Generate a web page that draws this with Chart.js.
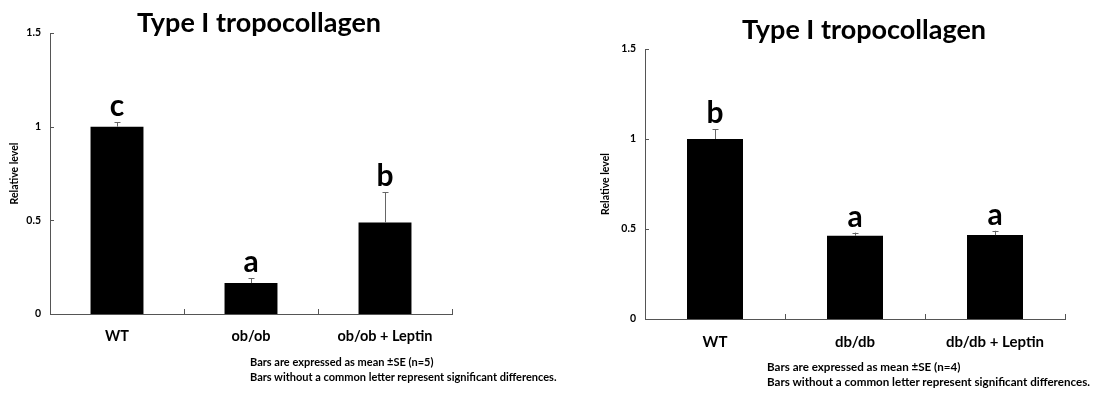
<!DOCTYPE html>
<html>
<head>
<meta charset="utf-8">
<script src="https://cdn.jsdelivr.net/npm/chart.js@4.4.1/dist/chart.umd.min.js"></script>
<style>
  html, body { margin: 0; padding: 0; background: #fff; }
  #wrap { position: relative; width: 1099px; height: 393px; background: #fff; overflow: hidden; }
  .panel { position: absolute; top: 0; height: 393px; }
  .title { position: absolute; font-family: Lato, "Open Sans", sans-serif; font-weight: 700; font-size: 27px; color: #000; white-space: nowrap; transform: translateX(-50%); line-height: 1; }
  .note { position: absolute; font-family: Lato, "Open Sans", sans-serif; font-weight: 700; color: #000; white-space: nowrap; line-height: 14.5px; }
</style>
</head>
<body>
<div id="wrap">
  <div class="panel" style="left:0;width:550px"><canvas id="c1" width="550" height="393"></canvas></div>
  <div class="panel" style="left:550px;width:549px"><canvas id="c2" width="549" height="393"></canvas></div>
  <div class="title" id="t1" style="left:259px;top:8px"></div>
  <div class="title" id="t2" style="left:864px;top:15px"></div>
  <div class="note" id="n1" style="left:250px;top:355px;font-size:11px"></div>
  <div class="note" id="n2" style="left:767px;top:360px;font-size:11.6px"></div>
</div>
<script>
// ---- data ----
const chartTitle = "Type I tropocollagen";
const yAxisTitle = "Relative level";
const yTicks = [0, 0.5, 1, 1.5];

const catsOb = ["WT", "ob/ob", "ob/ob + Leptin"];
const meanOb = [1.0, 0.165, 0.488];
const seOb = [0.024, 0.025, 0.163];
const lettersOb = ["c", "a", "b"];
const noteOb = ["Bars are expressed as mean \u00b1SE (n=5)", "Bars without a common letter represent significant differences."];

const catsDb = ["WT", "db/db", "db/db + Leptin"];
const meanDb = [1.0, 0.462, 0.466];
const seDb = [0.055, 0.018, 0.024];
const lettersDb = ["b", "a", "a"];
const noteDb = ["Bars are expressed as mean \u00b1SE (n=4)", "Bars without a common letter represent significant differences."];

document.getElementById('t1').textContent = chartTitle;
document.getElementById('t2').textContent = chartTitle;
document.getElementById('n1').innerHTML = noteOb.join('<br>');
document.getElementById('n2').innerHTML = noteDb.join('<br>');

const FONT = 'Lato, "Open Sans", sans-serif';
const AXIS = '#555';

// plugin: inside tick marks, error bars, significance letters
const extras = {
  id: 'extras',
  afterDatasetsDraw(chart, args, opts) {
    const ctx = chart.ctx;
    const xs = chart.scales.x, ys = chart.scales.y;
    const ca = chart.chartArea;
    ctx.save();
    // inside tick marks
    ctx.strokeStyle = AXIS;
    ctx.lineWidth = 1;
    ctx.beginPath();
    yTicks.forEach(v => {
      const y = Math.round(ys.getPixelForValue(v)) + 0.5;
      ctx.moveTo(ca.left, y); ctx.lineTo(ca.left + 4, y);
    });
    const n = chart.data.labels.length;
    for (let i = 1; i <= n; i++) {
      const x = Math.round((xs.getPixelForValue(i - 1) + (i < n ? xs.getPixelForValue(i) : 2 * xs.getPixelForValue(i - 1) - xs.getPixelForValue(i - 2))) / 2) + 0.5;
      ctx.moveTo(x, ca.bottom); ctx.lineTo(x, ca.bottom - 5);
    }
    ctx.stroke();
    // error bars + letters
    const meta = chart.getDatasetMeta(0);
    const ds = chart.data.datasets[0];
    meta.data.forEach((bar, i) => {
      const top = ys.getPixelForValue(ds.data[i] + opts.se[i]);
      const x = Math.round(bar.x) + 0.5;
      ctx.strokeStyle = '#666';
      ctx.beginPath();
      ctx.moveTo(x, bar.y); ctx.lineTo(x, top);
      ctx.moveTo(x - 3, Math.round(top) + 0.5); ctx.lineTo(x + 3, Math.round(top) + 0.5);
      ctx.stroke();
      ctx.fillStyle = '#000';
      ctx.font = 'bold 30px ' + FONT;
      ctx.textAlign = 'center';
      ctx.textBaseline = 'alphabetic';
      ctx.fillText(opts.letters[i], bar.x, top - 6);
    });
    ctx.restore();
  }
};

function makeChart(id, cats, means, se, letters, g) {
  return new Chart(document.getElementById(id), {
    type: 'bar',
    data: {
      labels: cats,
      datasets: [{ data: means, backgroundColor: '#000', borderWidth: 0,
                   categoryPercentage: 1, barPercentage: g.barPct }]
    },
    plugins: [extras],
    options: {
      responsive: false,
      animation: false,
      events: [],
      layout: { padding: { left: g.padL, right: g.padR, top: g.padT, bottom: g.padB } },
      plugins: { legend: { display: false }, tooltip: { enabled: false },
                 extras: { se: se, letters: letters } },
      scales: {
        x: {
          grid: { display: false, drawTicks: false },
          border: { display: true, color: AXIS, width: 1 },
          ticks: { color: '#000', padding: g.xPad, font: { family: FONT, weight: 'bold', size: g.xFont }, maxRotation: 0, autoSkip: false },
          afterFit: s => { s.height = g.xH; }
        },
        y: {
          min: 0, max: 1.5,
          grid: { display: false, drawTicks: false },
          border: { display: true, color: AXIS, width: 1 },
          afterBuildTicks: s => { s.ticks = yTicks.map(v => ({ value: v })); },
          ticks: { color: '#000', padding: g.yPad, font: { family: FONT, weight: 'bold', size: 10.5 },
                   callback: v => String(v) },
          title: { display: true, text: yAxisTitle, color: '#000', padding: { top: g.tPad, bottom: 0 },
                   font: { family: FONT, weight: 'bold', size: 10.5 } },
          afterFit: s => { s.width = g.yW; }
        }
      }
    }
  });
}

makeChart('c1', catsOb, meanOb, seOb, lettersOb,
  { padL: 0, padR: 98, padT: 33, padB: 39, xH: 40, xPad: 14, xFont: 14.5, yW: 50, yPad: 9, tPad: 8, barPct: 0.395 });
makeChart('c2', catsDb, meanDb, seDb, lettersDb,
  { padL: 40, padR: 34, padT: 49, padB: 34, xH: 40, xPad: 14, xFont: 15, yW: 55, yPad: 9, tPad: 9, barPct: 0.40 });
</script>
</body>
</html>
